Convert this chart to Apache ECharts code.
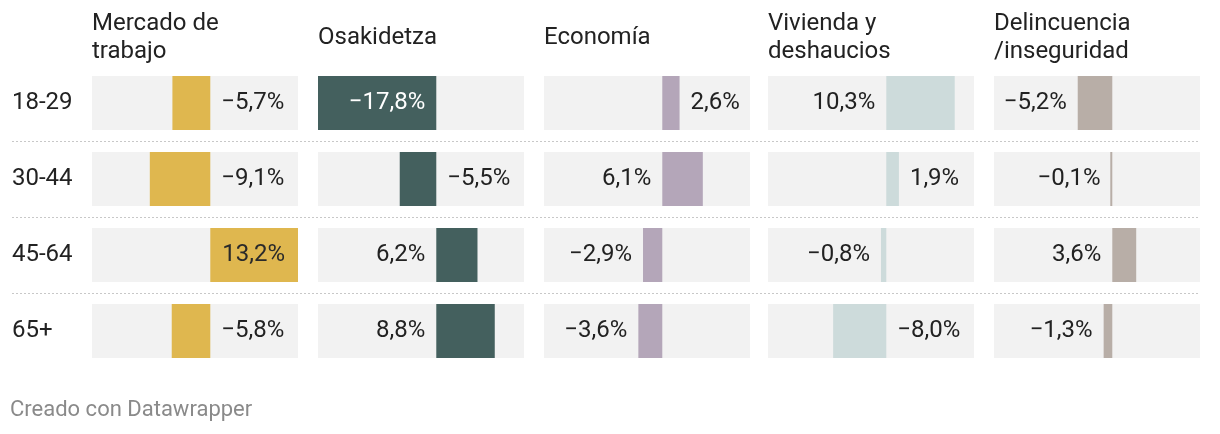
<!DOCTYPE html>
<html>
<head>
<meta charset="utf-8">
<script src="https://cdn.jsdelivr.net/npm/echarts@6/dist/echarts.min.js"></script>
<style>
html,body{margin:0;padding:0;background:#fff;}
#chart{width:1220px;height:434px;}
</style>
</head>
<body>
<div id="chart"></div>
<script>
// ---- data ----
const categories = ['18-29', '30-44', '45-64', '65+'];
const headers = ['Mercado de\ntrabajo', 'Osakidetza', 'Economía', 'Vivienda y\ndeshaucios', 'Delincuencia\n/inseguridad'];
const mercadoTrabajo = [-5.7, -9.1, 13.2, -5.8];
const osakidetza = [-17.8, -5.5, 6.2, 8.8];
const economia = [2.6, 6.1, -2.9, -3.6];
const vivienda = [10.3, 1.9, -0.8, -8.0];
const delincuencia = [-5.2, -0.1, 3.6, -1.3];
const labelSides = [
  ['R', 'R', 'R', 'R'],
  ['L', 'R', 'L', 'L'],
  ['R', 'L', 'L', 'L'],
  ['L', 'R', 'L', 'R'],
  ['L', 'L', 'L', 'L']
];
const footer = 'Creado con Datawrapper';

// ---- styling / layout ----
const seriesValues = [mercadoTrabajo, osakidetza, economia, vivienda, delincuencia];
const colors = ['#dfb74f', '#44605e', '#b4a6b9', '#cddbdb', '#b8aea7'];
const insideColors = ['#2a2a2a', '#ffffff', '#2a2a2a', '#2a2a2a', '#2a2a2a'];
const gridLefts = [92, 318, 544, 768, 994];
const gridWidth = 206;
const gridTop = 65;
const gridHeight = 304;
const FONT_FAMILY = 'Roboto, "Noto Sans", sans-serif';
const LABEL_SIZE = 24;
const TEXT_COLOR = '#222';
const labelFont = LABEL_SIZE + 'px ' + FONT_FAMILY;

const measureCtx = document.createElement('canvas').getContext('2d');
function textWidth(t) { measureCtx.font = labelFont; return measureCtx.measureText(t).width; }
function fmt(v) {
  const s = Math.abs(v).toFixed(1).replace('.', ',') + '%';
  return (v < 0 ? '\u2212' : '') + s;
}

const grids = [], xAxes = [], yAxes = [], series = [];
seriesValues.forEach((vals, c) => {
  grids.push({ left: gridLefts[c], top: gridTop, width: gridWidth, height: gridHeight, containLabel: false });
  xAxes.push({ gridIndex: c, type: 'value', min: -17.8, max: 13.2, show: false });
  yAxes.push({
    gridIndex: c, type: 'category', data: categories, inverse: true,
    axisLine: { show: false }, axisTick: { show: false }, splitLine: { show: false },
    axisLabel: c === 0 ? { show: true, align: 'left', margin: 80, fontSize: LABEL_SIZE, fontFamily: FONT_FAMILY, color: TEXT_COLOR } : { show: false }
  });
  series.push({
    type: 'bar', xAxisIndex: c, yAxisIndex: c, data: vals, barWidth: 54, barMinHeight: 2,
    showBackground: true, backgroundStyle: { color: '#f2f2f2' },
    itemStyle: { color: colors[c] }, silent: true, animation: false, z: 2
  });
  series.push({
    type: 'custom', xAxisIndex: c, yAxisIndex: c, silent: true, animation: false, z: 20,
    clip: false,
    data: vals.map((v, i) => [v, i]),
    encode: { x: 0, y: 1 },
    renderItem: function (params, api) {
      const v = api.value(0), row = api.value(1);
      const zero = api.coord([0, row]);
      const end = api.coord([v, row]);
      const cs = params.coordSys;
      const left = cs.x, right = cs.x + cs.width;
      const text = fmt(v);
      const w = textWidth(text);
      const side = labelSides[c][params.dataIndex];
      let x, align, fill = TEXT_COLOR;
      if (side === 'R') {
        x = Math.max(zero[0], end[0]) + 11; align = 'left';
        if (x + w > right) { x = zero[0] + 12; fill = insideColors[c]; }
      } else {
        x = Math.min(zero[0], end[0]) - 11; align = 'right';
        if (x - w < left) { x = zero[0] - 11; fill = insideColors[c]; }
      }
      return {
        type: 'text', z2: 100,
        style: {
          text: text, x: x, y: zero[1], font: labelFont, fill: fill,
          textAlign: align, textVerticalAlign: 'middle', align: align, verticalAlign: 'middle'
        }
      };
    }
  });
});

const graphics = [];
headers.forEach((h, c) => {
  graphics.push({
    type: 'text', x: gridLefts[c], y: 38,
    style: { text: h, font: LABEL_SIZE + 'px ' + FONT_FAMILY, fill: TEXT_COLOR, lineHeight: 28,
      textAlign: 'left', textVerticalAlign: 'middle', align: 'left', verticalAlign: 'middle' }
  });
});
[141, 217, 293].forEach(y => {
  graphics.push({
    type: 'line', shape: { x1: 12, y1: y + 0.5, x2: 1200, y2: y + 0.5 },
    style: { stroke: '#c8c8c8', lineWidth: 1, lineDash: [2, 2] }
  });
});
graphics.push({
  type: 'text', x: 10, y: 410,
  style: { text: footer, font: '22px ' + FONT_FAMILY, fill: '#8a8a8a',
    textAlign: 'left', textVerticalAlign: 'middle', align: 'left', verticalAlign: 'middle' }
});

const chart = echarts.init(document.getElementById('chart'), null, { renderer: 'canvas' });
chart.setOption({
  animation: false,
  backgroundColor: '#fff',
  grid: grids, xAxis: xAxes, yAxis: yAxes, series: series,
  graphic: graphics
});
</script>
</body>
</html>
